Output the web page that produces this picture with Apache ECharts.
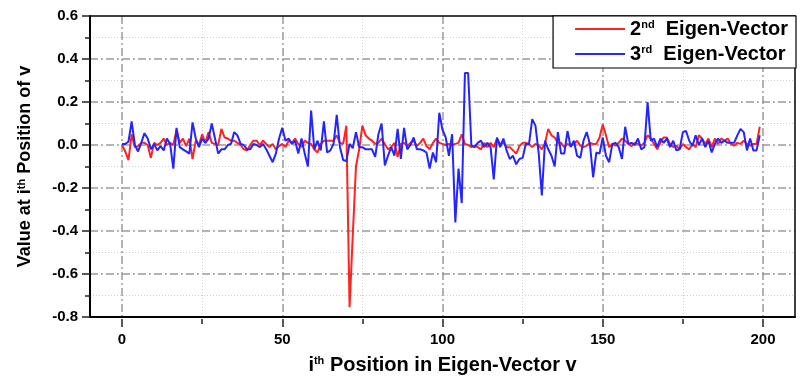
<!DOCTYPE html>
<html><head><meta charset="utf-8">
<script src="https://cdn.jsdelivr.net/npm/echarts@6/dist/echarts.min.js"></script>
<style>html,body{margin:0;padding:0;background:#fff}#c{width:804px;height:380px}</style>
</head><body><div id="c"></div>
<script>
const seriesNames = ['2nd Eigen-Vector', '3rd Eigen-Vector'];
const xTicks = [0, 50, 100, 150, 200];
const yTicks = [-0.8, -0.6, -0.4, -0.2, 0.0, 0.2, 0.4, 0.6];
const red2 = [
 0.0, -0.03, -0.07, 0.05, -0.01, -0.005, 0.01, 0.01, 0.0, -0.06,
 0.01, 0.0, 0.01, 0.03, 0.0, 0.01, 0.0, 0.07, 0.01, 0.03,
 -0.005, 0.03, -0.065, 0.02, 0.0, 0.05, 0.01, 0.06, 0.01, 0.005,
 0.0, 0.075, 0.035, 0.03, 0.02, 0.02, 0.01, 0.0, -0.02, -0.025,
 0.0, 0.02, 0.02, 0.0, 0.02, 0.005, -0.01, 0.005, -0.02, -0.005,
 0.005, -0.01, 0.02, 0.01, 0.03, 0.005, -0.01, 0.02, 0.01, 0.005,
 -0.02, -0.035, 0.005, 0.02, 0.02, 0.02, 0.02, 0.045, 0.01, 0.005,
 0.09, -0.755, -0.42, -0.1, -0.02, 0.09, 0.045, 0.03, 0.02, 0.005,
 0.01, 0.03, 0.005, -0.02, -0.01, 0.01, -0.055, 0.005, 0.01, -0.005,
 0.01, 0.02, -0.005, 0.01, 0.03, -0.005, -0.02, 0.01, 0.03, 0.01,
 0.005, 0.0, 0.005, 0.0, 0.005, 0.01, 0.05, 0.005, 0.0, -0.01,
 -0.005, -0.01, -0.02, 0.01, -0.01, 0.01, -0.01, 0.03, 0.005, 0.01,
 -0.01, -0.01, -0.025, -0.04, -0.005, 0.01, 0.01, 0.005, -0.01, 0.005,
 -0.003, -0.02, 0.01, 0.075, 0.045, 0.035, 0.01, 0.01, -0.01, 0.005,
 -0.003, 0.005, 0.02, -0.003, -0.01, -0.003, 0.01, 0.005, 0.005, 0.035,
 0.095, 0.045, -0.01, 0.005, -0.003, 0.01, 0.03, 0.02, 0.005, -0.005,
 0.01, 0.005, -0.003, 0.01, 0.045, 0.03, 0.005, -0.02, 0.01, 0.035,
 0.035, 0.005, -0.01, -0.003, -0.02, 0.005, -0.01, -0.02, 0.005, -0.01,
 0.045, 0.03, 0.005, 0.03, -0.01, 0.03, 0.005, 0.03, 0.02, 0.03,
 0.005, -0.003, 0.01, 0.005, 0.02, 0.005, -0.003, 0.005, 0.005, 0.085
];
const blue3 = [
 0.005, 0.005, 0.015, 0.11, 0.0, -0.03, 0.01, 0.055, 0.03, -0.02,
 0.005, -0.025, -0.005, -0.025, 0.03, 0.005, -0.11, 0.08, -0.01, -0.02,
 -0.03, -0.04, 0.105, 0.03, -0.01, 0.03, 0.01, 0.03, 0.1, 0.03,
 -0.04, -0.02, -0.02, 0.0, 0.005, 0.06, 0.045, 0.005, 0.0, -0.02,
 -0.02, 0.005, 0.0, -0.01, 0.005, -0.02, -0.05, -0.08, -0.04, 0.03,
 0.08, 0.02, 0.03, 0.005, 0.02, -0.04, 0.03, -0.04, -0.1, 0.16,
 -0.02, 0.02, -0.025, 0.11, -0.035, -0.025, 0.005, 0.14, -0.01, -0.07,
 -0.075, 0.005, -0.015, 0.06, -0.01, -0.01, -0.02, -0.02, -0.02, -0.055,
 0.05, 0.1, -0.095, -0.05, -0.01, -0.05, 0.075, -0.065, 0.08, -0.02,
 0.0, 0.035, -0.02, -0.02, -0.025, -0.035, -0.11, -0.035, -0.08, 0.15,
 0.07, 0.035, -0.05, 0.05, -0.36, -0.11, -0.27, 0.335, 0.335, 0.0,
 -0.01, 0.01, 0.02, -0.01, 0.01, -0.01, -0.16, 0.035, -0.01, 0.03,
 -0.025, -0.065, -0.05, -0.09, -0.065, -0.06, 0.005, 0.005, 0.12, 0.09,
 -0.035, -0.235, 0.02, -0.02, -0.05, -0.1, 0.06, -0.04, -0.04, 0.065,
 -0.01, 0.02, -0.05, -0.06, 0.02, 0.06, 0.005, -0.15, -0.035, -0.04,
 0.035, -0.05, -0.08, 0.005, 0.01, -0.01, -0.065, 0.085, 0.005, 0.01,
 0.0, 0.03, -0.02, -0.01, 0.2, 0.02, 0.03, -0.01, 0.03, 0.01,
 0.03, -0.01, 0.02, -0.025, -0.02, 0.06, 0.065, 0.02, -0.005, 0.045,
 0.0, 0.03, -0.01, 0.02, -0.035, 0.005, 0.03, 0.01, 0.02, 0.01,
 0.01, 0.01, 0.045, 0.075, 0.06, -0.025, 0.03, -0.025, -0.025, 0.045
];

const FONT = '"Liberation Sans", Arial, sans-serif';
const toPairs = arr => arr.map((v, i) => [i, v]);
const gL = 90, gT = 16, gW = 705, gH = 303;
const xMin = -10, xMax = 210;
const g1L = gL + (xTicks[0] - xMin) / (xMax - xMin) * gW;
const g1W = (xTicks[xTicks.length - 1] - xTicks[0]) / (xMax - xMin) * gW;
const dashDot = [8, 3, 2, 3];
const supRich = {
  s: { fontSize: 11, fontWeight: 'bold', fontFamily: FONT, verticalAlign: 'top', lineHeight: 12, color: '#000' }
};

const chart = echarts.init(document.getElementById('c'), null, { renderer: 'canvas' });
chart.setOption({
  animation: false,
  backgroundColor: '#fff',
  grid: [
    { left: gL, top: gT, width: gW, height: gH },
    { left: g1L, top: gT, width: g1W, height: gH }
  ],
  legend: {
    data: seriesNames,
    orient: 'vertical',
    right: 8, top: 16,
    padding: [3, 8, 4, 22],
    icon: 'rect',
    itemWidth: 50, itemHeight: 2, itemGap: 5,
    backgroundColor: '#fff',
    borderColor: '#000', borderWidth: 1.2, borderRadius: 0,
    textStyle: { fontSize: 20, fontWeight: 'bold', fontFamily: FONT, color: '#000', lineHeight: 20, rich: supRich },
    formatter: name => name.replace(/^(\d)(st|nd|rd|th) /, '$1{s|$2}  ')
  },
  xAxis: [
    { gridIndex: 0, type: 'value', min: xMin, max: xMax, position: 'bottom',
      axisLine: { show: true, onZero: false, lineStyle: { color: '#000', width: 2 } },
      axisTick: { show: false }, axisLabel: { show: false }, splitLine: { show: false },
      name: 'i{s|th} Position in Eigen-Vector v', nameLocation: 'middle', nameGap: 38,
      nameTextStyle: { fontSize: 20, fontWeight: 'bold', fontFamily: FONT, color: '#000', rich: supRich } },
    { gridIndex: 0, type: 'value', min: xMin, max: xMax, position: 'top',
      axisLine: { show: true, onZero: false, lineStyle: { color: '#000', width: 1.5 } },
      axisTick: { show: false }, axisLabel: { show: false }, splitLine: { show: false } },
    { gridIndex: 1, type: 'value', min: xTicks[0], max: xTicks[xTicks.length - 1], interval: 50, position: 'bottom',
      axisLine: { show: false, onZero: false },
      axisTick: { show: true, length: 8, lineStyle: { color: '#222', width: 1.5 } },
      minorTick: { show: true, splitNumber: 2, length: 5, lineStyle: { color: '#222', width: 1.5 } },
      axisLabel: { fontSize: 15, fontWeight: 'bold', fontFamily: FONT, color: '#000', margin: 13 },
      splitLine: { show: true, lineStyle: { color: '#9a9a9a', width: 1.5, type: dashDot } },
      minorSplitLine: { show: true, lineStyle: { color: '#d0d0d0', width: 1, type: [1, 2] } } }
  ],
  yAxis: [
    { gridIndex: 0, type: 'value', min: yTicks[0], max: yTicks[yTicks.length - 1], interval: 0.2,
      axisLine: { show: true, onZero: false, lineStyle: { color: '#000', width: 2 } },
      axisTick: { show: true, length: 8, lineStyle: { color: '#222', width: 1.5 } },
      minorTick: { show: true, splitNumber: 2, length: 5, lineStyle: { color: '#222', width: 1.5 } },
      axisLabel: { fontSize: 15, fontWeight: 'bold', fontFamily: FONT, color: '#000', margin: 12,
        formatter: v => v.toFixed(1) },
      splitLine: { show: true, showMinLine: false, showMaxLine: false, lineStyle: { color: '#9a9a9a', width: 1.5, type: dashDot } },
      minorSplitLine: { show: true, lineStyle: { color: '#d0d0d0', width: 1, type: [1, 2] } },
      name: 'Value at i{s|th} Position of v', nameLocation: 'middle', nameGap: 56, nameRotate: 90,
      nameTextStyle: { fontSize: 18, fontWeight: 'bold', fontFamily: FONT, color: '#000', rich: supRich } },
    { gridIndex: 0, type: 'value', min: yTicks[0], max: yTicks[yTicks.length - 1], position: 'right',
      axisLine: { show: true, onZero: false, lineStyle: { color: '#000', width: 1.5 } },
      axisTick: { show: false }, axisLabel: { show: false }, splitLine: { show: false } },
    { gridIndex: 1, type: 'value', min: yTicks[0], max: yTicks[yTicks.length - 1], show: false }
  ],
  series: [
    { name: seriesNames[0], type: 'line', xAxisIndex: 0, yAxisIndex: 0, data: toPairs(red2),
      symbol: 'none', lineStyle: { color: '#ff2222', width: 2 }, itemStyle: { color: '#ff2222' }, z: 3 },
    { name: seriesNames[1], type: 'line', xAxisIndex: 0, yAxisIndex: 0, data: toPairs(blue3),
      symbol: 'none', lineStyle: { color: '#2424ff', width: 2 }, itemStyle: { color: '#2424ff' }, z: 4 }
  ]
});
</script></body></html>
